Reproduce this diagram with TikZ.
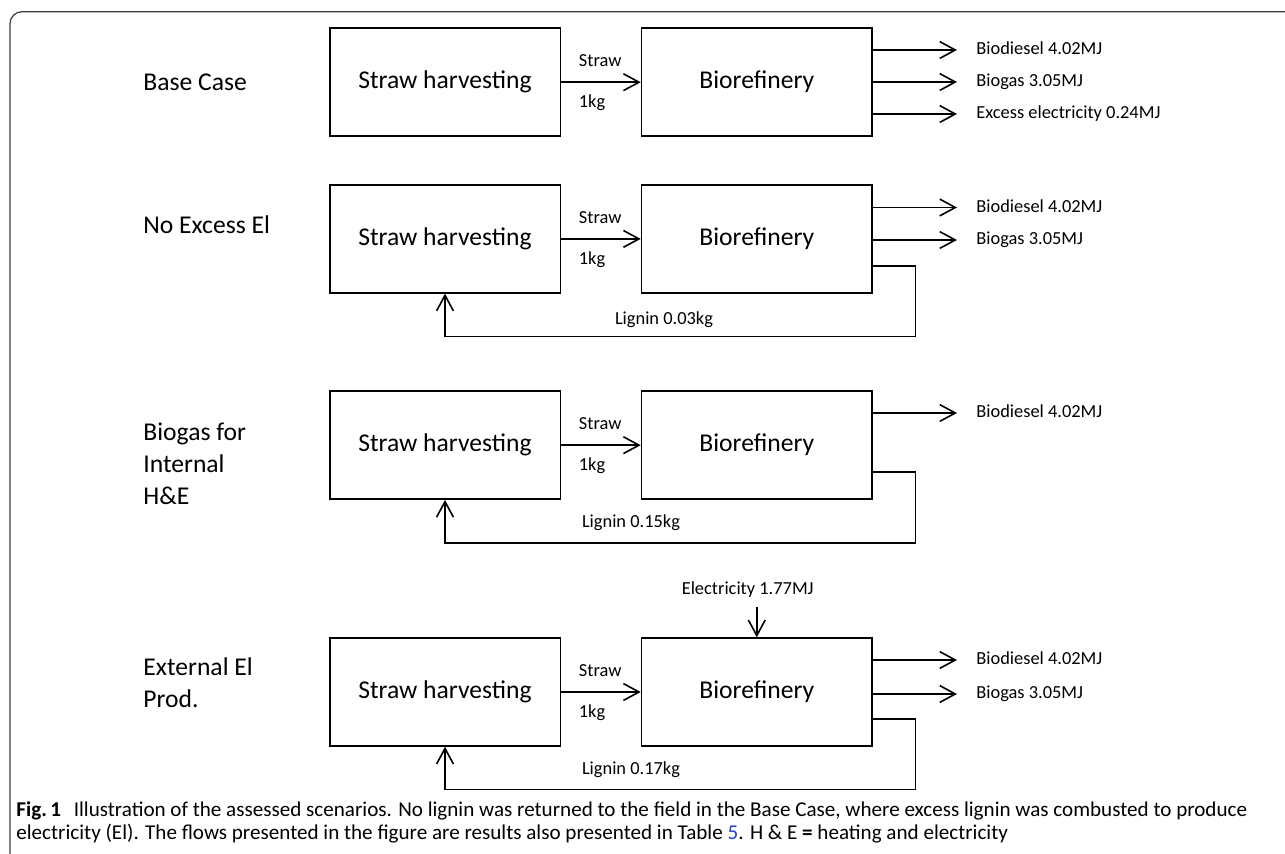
\documentclass[tikz,border=0pt]{standalone}
\usepackage{fontspec}
\setmainfont{Carlito}
\usetikzlibrary{positioning,arrows.meta,calc}
\definecolor{FrameGrey}{HTML}{3C3C3C}
\definecolor{LinkBlue}{HTML}{2040D0}
\tikzset{
  procbox/.style={draw,line width=0.8pt,minimum width=115.3pt,minimum height=53.9pt,inner sep=0pt,font=\fontsize{12.8}{15}\selectfont},
  rowlabel/.style={anchor=west,align=left,inner sep=0pt,font=\fontsize{12.8}{16}\selectfont},
  flowtxt/.style={anchor=west,inner sep=0pt,text height=6.6pt,text depth=1.9pt,font=\fontsize{9.2}{11}\selectfont},
  flow/.style={line width=0.8pt,-{Straight Barb[length=7.8pt,width=8.4pt,line width=0.8pt]}},
}
\newcommand{\procpair}[2]{%
  \node[procbox] (straw#1) at (445,#2) {Straw harvesting};
  \node[procbox] (bio#1) at (756.8,#2) {Biorefinery};
  \draw[flow] (straw#1) -- (bio#1);
  \node[flowtxt] (sin#1) at ($(straw#1.east)+(17.4,-20.5)$) {Straw};
  \node[flowtxt] (kg#1) at ($(straw#1.east)+(17.4,21)$) {1kg};}
\newcommand{\outflow}[4]{\node[flowtxt] (#1) at (976,#3) {#4};
  \draw[flow,shorten >=9.5pt] (#2.east |- #1.west) -- (#1.west);}
\newcommand{\ligninloop}[1]{\draw[flow] ([yshift=-13.5pt]bio#1.east) -- ++(42.7,0) |- ($(straw#1.south)+(0,43)$) -- (straw#1.south);}

\begin{document}
\begin{tikzpicture}[x=0.5pt,y=-0.5pt]
  \useasboundingbox (0,0) rectangle (1285,854);
  \draw[FrameGrey,line width=0.6pt,rounded corners=6pt] (10,854) -- (10,11.7) -- (1285,11.7);
  % scenario names
  \node[rowlabel] (base) at (143,82) {Base Case};
  \node[rowlabel] (noexcess) at (143,225) {No Excess El};
  \node[rowlabel] (internal) at (143,464) {Biogas for\\Internal\\H\&E};
  \node[rowlabel] (external) at (143,683) {External El\\Prod.};
  % base case
  \procpair{1}{82.2}
  \outflow{dsl1}{bio1}{50}{Biodiesel 4.02MJ}
  \outflow{gas1}{bio1}{82}{Biogas 3.05MJ}
  \outflow{el1}{bio1}{114}{Excess electricity 0.24MJ}
  % no excess electricity
  \procpair{2}{238.9}
  \outflow{dsl2}{bio2}{207.5}{Biodiesel 4.02MJ}
  \outflow{gas2}{bio2}{240}{Biogas 3.05MJ}
  \ligninloop{2}
  \node[flowtxt,anchor=center] (lig2) at (664,320) {Lignin 0.03kg};
  % biogas for internal H&E
  \procpair{3}{445.2}
  \outflow{dsl3}{bio3}{413}{Biodiesel 4.02MJ}
  \ligninloop{3}
  \node[flowtxt,anchor=center] (lig3) at (631,523) {Lignin 0.15kg};
  % external electricity
  \procpair{4}{692}
  \outflow{dsl4}{bio4}{660}{Biodiesel 4.02MJ}
  \outflow{gas4}{bio4}{694}{Biogas 3.05MJ}
  \ligninloop{4}
  \node[flowtxt,anchor=center] (lig4) at (631,770) {Lignin 0.17kg};
  \node[flowtxt,anchor=center] (elec4) at (747.7,590) {Electricity 1.77MJ};
  \draw[flow,shorten <=4pt] (bio4.north |- elec4.south) -- (bio4.north);
  % caption
  \node[anchor=base west,inner sep=0pt,align=left,font=\fontsize{10.55}{11}\selectfont] (caption) at (16,839) {\textbf{Fig.\,1}\hspace{0.6em}Illustration of the assessed scenarios. No lignin was returned to the field in the Base Case, where excess lignin was combusted to produce\\electricity (El). The flows presented in the figure are results also presented in Table \textcolor{LinkBlue}{5}. H \& E \textbf{=} heating and electricity};
\end{tikzpicture}
\end{document}
